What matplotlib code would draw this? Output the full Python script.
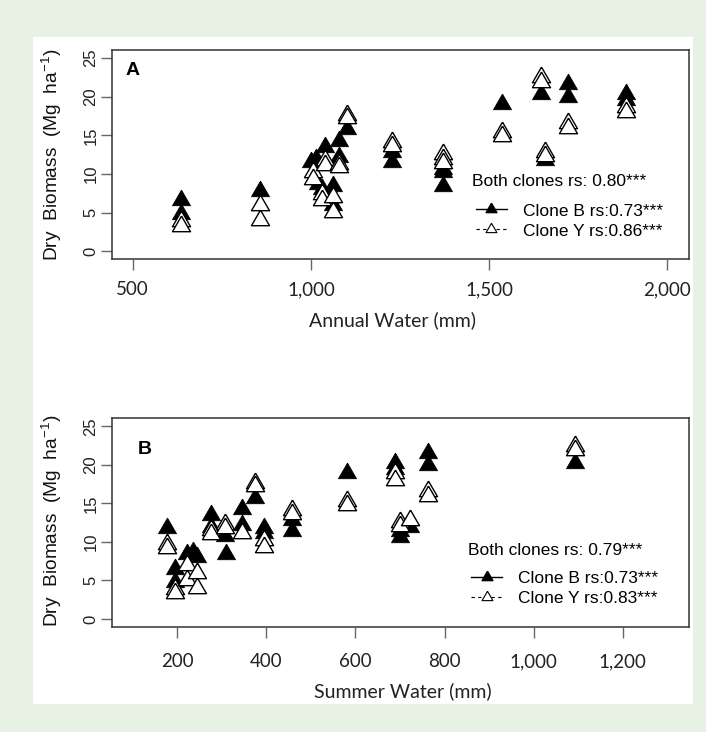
"""Dry biomass of two clones against annual and summer water supply."""

import matplotlib

matplotlib.use("Agg")
import matplotlib.patches as patches
import matplotlib.pyplot as plt
from matplotlib.lines import Line2D
from matplotlib.ticker import FuncFormatter

# Panel A: annual water (mm) vs dry biomass (Mg/ha)
annual_b_x = [636, 636, 856, 1000, 1015, 1020, 1030, 1040, 1063, 1063, 1080, 1080, 1100,
              1228, 1228, 1370, 1370, 1370, 1535, 1646, 1656, 1720, 1720, 1883, 1883]
annual_b_y = [6.6, 4.8, 7.8, 11.5, 12.0, 8.7, 8.1, 13.5, 8.4, 6.0, 14.3, 12.2, 15.8,
              12.8, 11.5, 10.7, 10.2, 8.4, 19.0, 20.3, 11.8, 21.6, 20.0, 20.4, 19.6]
annual_y_x = [636, 636, 856, 856, 1005, 1005, 1030, 1030, 1040, 1040, 1063, 1063, 1080, 1080,
              1100, 1100, 1228, 1228, 1370, 1370, 1370, 1535, 1535, 1646, 1646, 1656, 1656,
              1720, 1720, 1883, 1883]
annual_y_y = [3.9, 3.3, 6.0, 4.1, 10.3, 9.3, 7.4, 6.7, 11.8, 11.2, 7.0, 5.1, 11.3, 10.9,
              17.7, 17.2, 14.1, 13.6, 12.6, 11.9, 11.4, 15.4, 14.9, 22.6, 21.9, 12.9, 12.3,
              16.6, 16.0, 18.7, 18.0]

# Panel B: summer water (mm) vs dry biomass (Mg/ha)
summer_b_x = [178, 195, 195, 222, 236, 245, 275, 275, 308, 310, 345, 345, 375, 395, 395,
              458, 458, 580, 688, 688, 700, 700, 722, 764, 764, 1092]
summer_b_y = [11.8, 6.5, 4.8, 8.4, 8.7, 8.0, 13.5, 12.0, 10.8, 8.4, 14.3, 12.2, 15.7, 11.8, 11.2,
              12.8, 11.4, 19.0, 20.2, 19.5, 11.4, 10.7, 12.0, 21.5, 20.0, 20.3]
summer_y_x = [178, 178, 195, 195, 222, 222, 245, 245, 275, 275, 308, 308, 345, 375, 375,
              395, 395, 458, 458, 580, 580, 688, 688, 700, 700, 722, 764, 764, 1092, 1092]
summer_y_y = [9.7, 9.2, 3.9, 3.4, 7.0, 5.0, 6.0, 4.0, 11.6, 11.0, 12.3, 11.8, 11.1, 17.7, 17.2,
              10.3, 9.4, 14.1, 13.6, 15.3, 14.8, 19.0, 18.1, 12.6, 12.1, 12.9, 16.6, 16.0, 22.5, 21.9]

annual_ticks = [500, 1000, 1500, 2000]
summer_ticks = [200, 400, 600, 800, 1000, 1200]
biomass_ticks = [0, 5, 10, 15, 20, 25]

annual_stats = ["Both clones rs: 0.80***", "Clone B rs:0.73***", "Clone Y rs:0.86***"]
summer_stats = ["Both clones rs: 0.79***", "Clone B rs:0.73***", "Clone Y rs:0.83***"]

GREEN = "#E8F2E4"
ARIAL = "Liberation Sans"
CALIBRI_LIKE = "Lato"
# R-style equilateral triangle centred on its centroid
TRIANGLE = [(0.0, 1.555), (1.347, -0.778), (-1.347, -0.778), (0.0, 1.555)]

W, H = 706, 732


def _axes_rect(left, top, right, bottom):
    return [left / W, 1 - bottom / H, (right - left) / W, (bottom - top) / H]


def draw_panel(ax, bx, by, yx, yy, xticks, xlim, letter, stats, xlabel, layout):
    ax.scatter(bx, by, marker=TRIANGLE, s=15 ** 2, c="black", edgecolors="black",
               linewidths=0.6, zorder=3)
    ax.scatter(yx, yy, marker=TRIANGLE, s=15 ** 2, c="white", edgecolors="black",
               linewidths=1.0, zorder=4)

    ax.set_xlim(*xlim)
    ax.set_ylim(-1.0, 26.05)
    ax.set_xticks(xticks)
    ax.set_yticks(biomass_ticks)
    ax.xaxis.set_major_formatter(FuncFormatter(lambda v, _p: f"{v:,.0f}"))

    for spine in ax.spines.values():
        spine.set_color("#333333")
        spine.set_linewidth(1.1)
    ax.tick_params(axis="both", direction="out", length=8, width=1.0, color="#666666")
    ax.tick_params(axis="x", pad=layout["xpad"])
    ax.tick_params(axis="y", pad=1.5)
    for lbl in ax.get_xticklabels():
        lbl.set_fontfamily(CALIBRI_LIKE)
        lbl.set_fontsize(13.5)
        lbl.set_color("#222222")
    for lbl in ax.get_yticklabels():
        lbl.set_fontfamily(ARIAL)
        lbl.set_fontsize(12)
        lbl.set_rotation(90)
        lbl.set_va("center")
        lbl.set_color("#222222")

    ax.set_xlabel(xlabel, fontfamily=CALIBRI_LIKE, fontsize=14, color="#222222")
    ax.xaxis.label.set_va("center")
    ax.xaxis.set_label_coords(*layout["xlabel"])
    ax.set_ylabel("Dry  Biomass  (Mg  ha$^{-1}$)", fontfamily=ARIAL, fontsize=13.8,
                  color="#111111")
    ax.yaxis.label.set_va("center")
    ax.yaxis.set_label_coords(*layout["ylabel"])

    ax.text(*layout["letter"], letter, transform=ax.transAxes, fontfamily=ARIAL,
            fontsize=14, fontweight="bold", ha="center", va="center")
    ax.text(*layout["title"], stats[0], transform=ax.transAxes, fontfamily=ARIAL,
            fontsize=12.5, ha="left", va="center")

    handles = [
        Line2D([], [], color="black", lw=1.0, ls="-", marker=TRIANGLE, ms=9,
               mfc="black", mec="black"),
        Line2D([], [], color="black", lw=0.8, ls=(0, (3, 3)), marker=TRIANGLE, ms=9,
               mfc="white", mec="black", mew=0.8),
    ]
    ax.legend(handles, stats[1:], loc="upper left", bbox_to_anchor=layout["legend"],
              frameon=False, prop={"family": ARIAL, "size": 12.5}, handlelength=1.8,
              handletextpad=0.9, labelspacing=0.28, borderpad=0, borderaxespad=0)


def main():
    plt.rcParams["mathtext.default"] = "regular"
    fig = plt.figure(figsize=(W / 100, H / 100), dpi=100, facecolor=GREEN)
    fig.add_artist(patches.Rectangle((33 / W, 1 - 704 / H), 660 / W, 667 / H,
                                     transform=fig.transFigure, facecolor="white",
                                     edgecolor="none", zorder=0))

    ax_a = fig.add_axes(_axes_rect(111.7, 50, 688.7, 259))
    draw_panel(ax_a, annual_b_x, annual_b_y, annual_y_x, annual_y_y, annual_ticks,
               (441, 2060), "A", annual_stats, "Annual Water (mm)",
               {"xpad": 8, "xlabel": (0.487, -0.292), "ylabel": (-0.103, 0.497),
                "letter": (0.036, 0.9), "title": (0.624, 0.37), "legend": (0.631, 0.266)})

    ax_b = fig.add_axes(_axes_rect(111.7, 418.3, 688.7, 626.7))
    draw_panel(ax_b, summer_b_x, summer_b_y, summer_y_x, summer_y_y, summer_ticks,
               (53, 1348), "B", summer_stats, "Summer Water (mm)",
               {"xpad": 11, "xlabel": (0.505, -0.309), "ylabel": (-0.103, 0.507),
                "letter": (0.057, 0.85), "title": (0.618, 0.365), "legend": (0.623, 0.269)})

    fig.savefig("out.png", dpi=100, facecolor=GREEN)
    plt.close(fig)


if __name__ == "__main__":
    main()
